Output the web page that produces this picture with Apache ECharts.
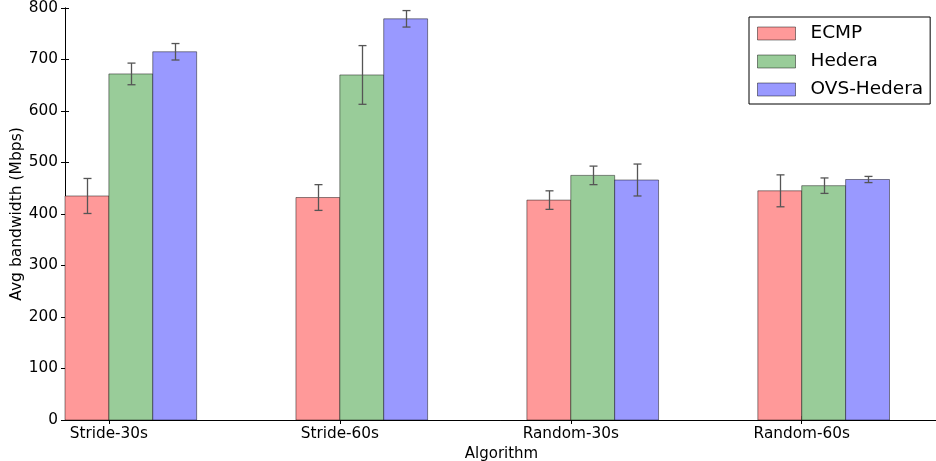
<!DOCTYPE html>
<html>
<head>
<meta charset="utf-8">
<script src="https://cdn.jsdelivr.net/npm/echarts@6/dist/echarts.min.js"></script>
<style>
html,body{margin:0;padding:0;background:#fff;}
#chart{width:936px;height:461px;}
</style>
</head>
<body>
<div id="chart"></div>
<script>
const categories = ['Stride-30s', 'Stride-60s', 'Random-30s', 'Random-60s'];
const seriesNames = ['ECMP', 'Hedera', 'OVS-Hedera'];
const ecmp = [435, 432, 427, 445];
const ecmpErr = [34, 25, 18, 31];
const hedera = [672, 670, 475, 455];
const hederaErr = [21, 57, 18, 15];
const ovsHedera = [715, 779, 466, 467];
const ovsHederaErr = [16, 16, 31, 6];
const yTicks = [0, 100, 200, 300, 400, 500, 600, 700, 800];

const W = 0.19;           // bar width in axis units
const XMAX = 3.78;
const colors = ['#ff9999', '#99cc99', '#9999ff'];
const edge = 'rgba(0,0,0,0.45)';
const FONT = 'DejaVu Sans';

const values = [ecmp, hedera, ovsHedera];
const errs = [ecmpErr, hederaErr, ovsHederaErr];
const tickPos = categories.map((c, i) => i + W);

function barSeries(j) {
  return {
    type: 'custom',
    name: seriesNames[j],
    z: 2,
    data: categories.map((c, i) => [i + j * W, values[j][i]]),
    renderItem: function (params, api) {
      const x = api.value(0), y = api.value(1);
      const p0 = api.coord([x, 0]);
      const p1 = api.coord([x + W, y]);
      return {
        type: 'rect',
        shape: { x: p0[0], y: p1[1], width: p1[0] - p0[0], height: p0[1] - p1[1] },
        style: { fill: colors[j], stroke: edge, lineWidth: 1 }
      };
    }
  };
}

function errSeries(j) {
  return {
    type: 'custom',
    name: seriesNames[j] + '-err',
    z: 5,
    data: categories.map((c, i) => [i + j * W + W / 2, values[j][i], errs[j][i]]),
    renderItem: function (params, api) {
      const x = api.value(0), y = api.value(1), e = api.value(2);
      const top = api.coord([x, y + e]);
      const bot = api.coord([x, y - e]);
      const cx = Math.round(top[0]) + 0.5;
      const st = { stroke: '#555', lineWidth: 1.3 };
      return {
        type: 'group',
        children: [
          { type: 'line', shape: { x1: cx, y1: top[1], x2: cx, y2: bot[1] }, style: st },
          { type: 'line', shape: { x1: cx - 4, y1: top[1], x2: cx + 4, y2: top[1] }, style: st },
          { type: 'line', shape: { x1: cx - 4, y1: bot[1], x2: cx + 4, y2: bot[1] }, style: st }
        ]
      };
    }
  };
}

const chart = echarts.init(document.getElementById('chart'), null, { renderer: 'canvas' });
const axisLineStyle = { show: true, lineStyle: { color: '#000', width: 1 } };
const option = {
  animation: false,
  backgroundColor: '#fff',
  textStyle: { fontFamily: FONT },
  grid: { left: 65, top: 8, width: 873, height: 412, containLabel: false, outerBoundsMode: 'none' },
  legend: {
    orient: 'vertical',
    left: 749,
    top: 17,
    padding: [7, 7, 5, 8],
    borderColor: '#000',
    borderWidth: 1,
    backgroundColor: '#fff',
    itemWidth: 38,
    itemHeight: 13,
    itemGap: 9,
    textStyle: { fontSize: 18.5, color: '#000', fontFamily: FONT, padding: [0, 0, 0, 10] },
    data: seriesNames.map((n, j) => ({
      name: n, icon: 'rect',
      itemStyle: { color: colors[j], borderColor: edge, borderWidth: 1 }
    }))
  },
  xAxis: [
    {
      type: 'value', position: 'bottom', min: 0, max: XMAX,
      name: 'Algorithm', nameLocation: 'middle', nameGap: 20,
      nameTextStyle: { fontSize: 15, color: '#000', fontFamily: FONT },
      axisLine: axisLineStyle,
      splitLine: { show: false },
      axisTick: { show: true, inside: true, length: 4, customValues: tickPos, lineStyle: { color: '#000' } },
      axisLabel: {
        show: true, customValues: tickPos, margin: 7, fontSize: 15.3, color: '#000', fontFamily: FONT,
        formatter: function (v) { return categories[Math.round(v - W)] || ''; }
      }
    },
    {
      type: 'value', position: 'top', min: 0, max: XMAX,
      axisLine: axisLineStyle,
      splitLine: { show: false },
      axisTick: { show: true, inside: true, length: 4, customValues: tickPos, lineStyle: { color: '#000' } },
      axisLabel: { show: false }
    }
  ],
  yAxis: [
    {
      type: 'value', position: 'left', min: 0, max: 800, interval: 100,
      name: 'Avg bandwidth (Mbps)', nameLocation: 'middle', nameGap: 40, nameRotate: 90,
      nameMoveOverlap: false,
      nameTextStyle: { fontSize: 15.5, color: '#000', fontFamily: FONT },
      axisLine: axisLineStyle,
      splitLine: { show: false },
      axisTick: { show: true, inside: true, length: 4, lineStyle: { color: '#000' } },
      axisLabel: { show: true, margin: 7, fontSize: 15.3, color: '#000', fontFamily: FONT,
        customValues: yTicks, formatter: v => String(v) }
    },
    {
      type: 'value', position: 'right', min: 0, max: 800, interval: 100,
      axisLine: axisLineStyle,
      splitLine: { show: false },
      axisTick: { show: true, inside: true, length: 4, lineStyle: { color: '#000' } },
      axisLabel: { show: false }
    }
  ],
  series: [barSeries(0), barSeries(1), barSeries(2), errSeries(0), errSeries(1), errSeries(2)]
};
chart.setOption(option);
</script>
</body>
</html>
